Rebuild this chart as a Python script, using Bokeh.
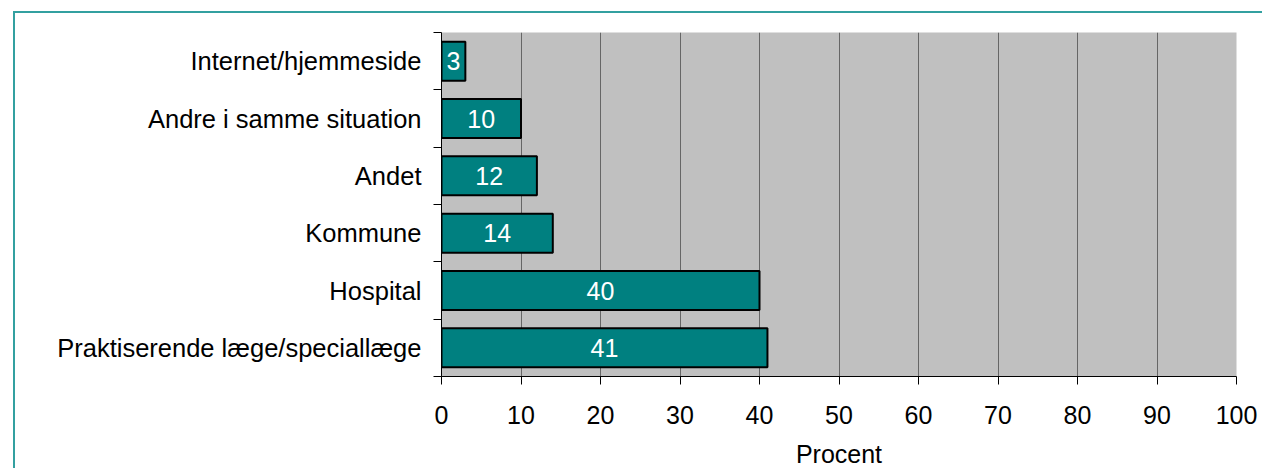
from bokeh.plotting import figure
from bokeh.models import ColumnDataSource, Range1d, FixedTicker
from bokeh.embed import file_html
from bokeh.resources import INLINE
from bokeh.core.properties import value

# Data (bottom to top)
categories = ["Praktiserende læge/speciallæge", "Hospital", "Kommune", "Andet",
              "Andre i samme situation", "Internet/hjemmeside"]
values = [41, 40, 14, 12, 10, 3]
x_ticks = [0, 10, 20, 30, 40, 50, 60, 70, 80, 90, 100]

FONT = "Liberation Sans"
TEAL = "#008080"
FRAME = "#33a0a0"

pos = [i + 0.5 for i in range(len(categories))]
source = ColumnDataSource(dict(
    y=pos,
    right=values,
    mid=[v / 2 for v in values],
    lab=[str(v) for v in values],
))

p = figure(width=1249, height=457, output_backend="svg", toolbar_location=None,
           x_range=Range1d(0, 100), y_range=Range1d(0, len(categories)),
           min_border_left=426, min_border_right=28, min_border_top=19,
           min_border_bottom=86)
p.margin = (11, 0, 0, 13)
p.styles = {"border-top": f"2px solid {FRAME}", "border-left": f"2px solid {FRAME}"}

p.background_fill_color = "#C0C0C0"
p.border_fill_color = "white"
p.outline_line_color = None

p.hbar(y="y", left=0, right="right", height=0.68, source=source,
       fill_color=TEAL, line_color="black", line_width=2)
p.text(x="mid", y="y", text="lab", source=source, text_color="white",
       text_font=value(FONT), text_font_size="25px", text_align="center",
       text_baseline="middle")

# x axis
p.xaxis.ticker = FixedTicker(ticks=x_ticks)
p.xaxis.axis_label = "Procent"
p.xaxis.axis_label_text_font = FONT
p.xaxis.axis_label_text_font_size = "25px"
p.xaxis.axis_label_text_font_style = "normal"
p.xaxis.axis_label_text_color = "black"
p.xaxis.axis_label_standoff = 13
p.xaxis.major_label_text_font = FONT
p.xaxis.major_label_text_font_size = "25px"
p.xaxis.major_label_text_color = "black"
p.xaxis.major_label_standoff = 21
p.xaxis.major_tick_out = 8
p.xaxis.major_tick_in = 0
p.xaxis.minor_tick_out = 0
p.xaxis.minor_tick_in = 0
p.xaxis.axis_line_color = "black"
p.xaxis.major_tick_line_color = "black"

# y axis
p.yaxis.ticker = FixedTicker(ticks=pos, minor_ticks=list(range(len(categories) + 1)))
p.yaxis.major_label_overrides = {pos[i]: categories[i] for i in range(len(categories))}
p.yaxis.major_label_text_font = FONT
p.yaxis.major_label_text_font_size = "25.5px"
p.yaxis.major_label_text_color = "black"
p.yaxis.major_label_standoff = 12
p.yaxis.major_tick_out = 0
p.yaxis.major_tick_in = 0
p.yaxis.minor_tick_out = 8
p.yaxis.minor_tick_in = 0
p.yaxis.minor_tick_line_color = "black"
p.yaxis.axis_line_color = "black"

# grid
p.xgrid.ticker = FixedTicker(ticks=x_ticks)
p.xgrid.grid_line_color = "#666666"
p.xgrid.grid_line_width = 1
p.ygrid.grid_line_color = None

open("out.html", "w").write(file_html(p, INLINE))
